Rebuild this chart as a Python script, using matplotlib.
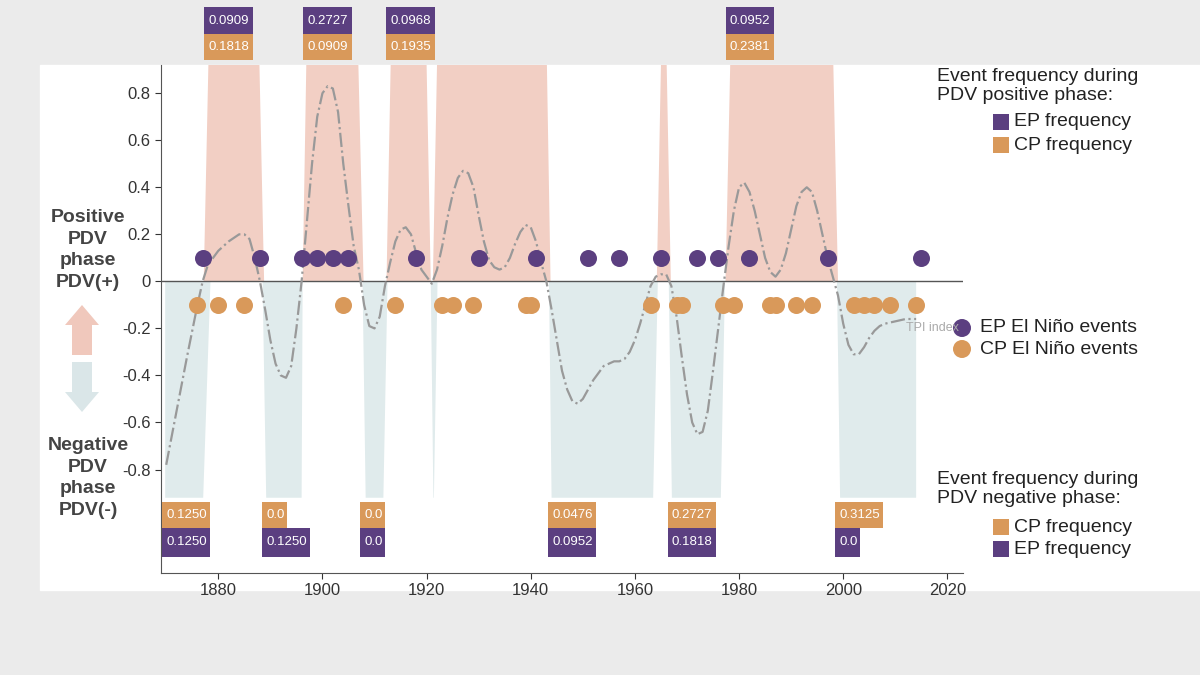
import matplotlib.pyplot as plt
from matplotlib.patches import Rectangle, FancyArrow, Ellipse
import numpy as np

plt.rcParams['font.family'] = ['Liberation Sans', 'DejaVu Sans']

# TPI index curve
tpi_year = [1870, 1872, 1874, 1876, 1877, 1878, 1880, 1882, 1884, 1885, 1886, 1887, 1888, 1889, 1890,
            1891, 1892, 1893, 1894, 1895, 1896, 1897, 1898, 1899, 1900, 1901, 1902, 1903, 1904, 1905,
            1906, 1907, 1908, 1909, 1910, 1911, 1912, 1913, 1914, 1915, 1916, 1917, 1918, 1919, 1920,
            1921, 1922, 1923, 1924, 1925, 1926, 1927, 1928, 1929, 1930, 1931, 1932, 1933, 1934, 1935,
            1936, 1937, 1938, 1939, 1940, 1941, 1942, 1943, 1944, 1945, 1946, 1947, 1948, 1949, 1950,
            1951, 1952, 1953, 1954, 1955, 1956, 1957, 1958, 1959, 1960, 1961, 1962, 1963, 1964, 1965,
            1966, 1967, 1968, 1969, 1970, 1971, 1972, 1973, 1974, 1975, 1976, 1977, 1978, 1979, 1980,
            1981, 1982, 1983, 1984, 1985, 1986, 1987, 1988, 1989, 1990, 1991, 1992, 1993, 1994, 1995,
            1996, 1997, 1998, 1999, 2000, 2001, 2002, 2003, 2004, 2005, 2006, 2007, 2008, 2010, 2012, 2014]
tpi_val = [-0.78, -0.55, -0.32, -0.1, 0.0, 0.07, 0.13, 0.17, 0.2, 0.2, 0.18, 0.1, 0.0, -0.12, -0.25,
           -0.35, -0.4, -0.41, -0.36, -0.2, 0.0, 0.25, 0.5, 0.7, 0.8, 0.83, 0.82, 0.72, 0.5, 0.32,
           0.15, 0.05, -0.1, -0.19, -0.2, -0.15, -0.02, 0.08, 0.17, 0.22, 0.23, 0.2, 0.12, 0.05, 0.02,
           -0.01, 0.05, 0.15, 0.27, 0.37, 0.44, 0.47, 0.46, 0.4, 0.28, 0.17, 0.09, 0.06, 0.05, 0.06,
           0.1, 0.16, 0.21, 0.24, 0.23, 0.17, 0.08, 0.0, -0.12, -0.25, -0.38, -0.46, -0.51, -0.52, -0.5,
           -0.46, -0.42, -0.39, -0.36, -0.35, -0.34, -0.34, -0.33, -0.3, -0.25, -0.18, -0.1, -0.02, 0.02, 0.03,
           0.03, -0.02, -0.15, -0.32, -0.48, -0.6, -0.65, -0.64, -0.55, -0.38, -0.2, -0.02, 0.15, 0.3, 0.4,
           0.42, 0.38, 0.3, 0.2, 0.1, 0.04, 0.02, 0.05, 0.12, 0.22, 0.32, 0.38, 0.4, 0.38, 0.3,
           0.2, 0.1, 0.02, -0.06, -0.18, -0.27, -0.31, -0.31, -0.28, -0.24, -0.21, -0.19, -0.18, -0.17, -0.16, -0.16]

ep_years = [1877, 1888, 1896, 1899, 1902, 1905, 1918, 1930, 1941, 1951, 1957, 1965, 1972, 1976, 1982, 1997, 2015]
cp_years = [1876, 1880, 1885, 1904, 1914, 1923, 1925, 1929, 1939, 1940, 1963, 1968, 1969, 1977, 1979,
            1986, 1987, 1991, 1994, 2002, 2004, 2006, 2009, 2014]

# positive phases: (bottom start, top start, top end, bottom end)
pos_phases = [(1877.2, 1878.1, 1887.9, 1888.8), (1896.2, 1896.9, 1906.9, 1907.9),
              (1912.3, 1913.1, 1920.0, 1920.8), (1921.2, 1922.0, 1943.1, 1943.8),
              (1964.2, 1965.0, 1966.1, 1966.9), (1977.4, 1978.3, 1998.1, 1999.0)]
# negative phases: (top start, bottom start, bottom end, top end)
neg_phases = [(1869.8, 1869.8, 1877.1, 1878.5), (1888.5, 1889.2, 1896.0, 1896.2),
              (1907.7, 1908.3, 1911.7, 1912.5), (1920.8, 1921.3, 1921.4, 1922.1),
              (1943.5, 1944.0, 1963.5, 1964.4), (1966.5, 1967.1, 1976.5, 1977.3),
              (1998.8, 1999.4, 2014.0, 2014.0)]

pos_start = [1877.3, 1896.3, 1912.3, 1977.4]
pos_ep = ["0.0909", "0.2727", "0.0968", "0.0952"]
pos_cp = ["0.1818", "0.0909", "0.1935", "0.2381"]
neg_start = [1869.2, 1888.4, 1907.3, 1943.3, 1966.3, 1998.4]
neg_cp = ["0.1250", "0.0", "0.0", "0.0476", "0.2727", "0.3125"]
neg_ep = ["0.1250", "0.1250", "0.0", "0.0952", "0.1818", "0.0"]

PINK = '#f2cfc4'
BLUE = '#e0ebec'
PURPLE = '#5b3f80'
ORANGE = '#d9995a'

fig = plt.figure(figsize=(12, 6.75), dpi=100, facecolor='#ebebeb')
fig.patches.append(Rectangle((40 / 1200, 85 / 675), 1160 / 1200, 525 / 675,
                             transform=fig.transFigure, color='white', zorder=-5))
ax = fig.add_axes([161 / 1200, 102 / 675, 802 / 1200, 508 / 675])
ax.set_zorder(2)
ax.set_facecolor('none')
ax.set_xlim(1869, 2023)
ax.set_ylim(-1.24, 0.92)

for b0, t0, t1, b1 in pos_phases:
    ax.fill([b0, t0, t1, b1], [0, 0.92, 0.92, 0], color=PINK, lw=0, zorder=1)
for t0, b0, b1, t1 in neg_phases:
    ax.fill([t0, b0, b1, t1], [0, -0.92, -0.92, 0], color=BLUE, lw=0, zorder=1)

ax.axhline(0, color='#555555', lw=1, zorder=2)
ax.plot(tpi_year, tpi_val, color='#999999', lw=1.6, ls='-.', zorder=3)
ax.scatter(ep_years, [0.1] * len(ep_years), s=150, color=PURPLE, zorder=4, lw=0)
ax.scatter(cp_years, [-0.1] * len(cp_years), s=150, color=ORANGE, zorder=4, lw=0)
ax.text(2012, -0.2, "TPI index", color='#aaaaaa', fontsize=9, va='center')


def box(x, y0, y1, label, color):
    w = 4.8 if len(label) < 4 else 9.3
    ax.add_patch(Rectangle((x, y0), w, y1 - y0, color=color, clip_on=False, zorder=5, lw=0))
    ax.text(x + 0.8, (y0 + y1) / 2, label, color='white', fontsize=9.5, va='center',
            ha='left', clip_on=False, zorder=6)


for x, e, c in zip(pos_start, pos_ep, pos_cp):
    box(x, 1.05, 1.165, e, PURPLE)
    box(x, 0.94, 1.05, c, ORANGE)
for x, c, e in zip(neg_start, neg_cp, neg_ep):
    box(x, -1.05, -0.94, c, ORANGE)
    box(x, -1.17, -1.05, e, PURPLE)

ax.set_yticks(np.round(np.arange(-0.8, 0.81, 0.2), 1))
ax.set_yticklabels(['-0.8', '-0.6', '-0.4', '-0.2', '0', '0.2', '0.4', '0.6', '0.8'])
ax.set_xticks([1880, 1900, 1920, 1940, 1960, 1980, 2000, 2020])
ax.tick_params(labelsize=12, colors='#333333', length=4)
for s in ['top', 'right']:
    ax.spines[s].set_visible(False)
for s in ['left', 'bottom']:
    ax.spines[s].set_color('#555555')

# left annotations
fig.text(88 / 1200, 1 - 250 / 675, "Positive\nPDV\nphase\nPDV(+)", ha='center', va='center',
         fontsize=14, fontweight='bold', color='#444444', linespacing=1.35)
fig.text(88 / 1200, 1 - 478 / 675, "Negative\nPDV\nphase\nPDV(-)", ha='center', va='center',
         fontsize=14, fontweight='bold', color='#444444', linespacing=1.35)
fig.patches.append(FancyArrow(82 / 1200, 1 - 355 / 675, 0, 30 / 675, width=20 / 1200,
                              head_width=34 / 1200, head_length=20 / 675,
                              transform=fig.transFigure, color='#f0c8bc', lw=0))
fig.patches.append(FancyArrow(82 / 1200, 1 - 362 / 675, 0, -30 / 675, width=20 / 1200,
                              head_width=34 / 1200, head_length=20 / 675,
                              transform=fig.transFigure, color='#dae6e8', lw=0))

# right legends
def sq(y, color, label):
    fig.patches.append(Rectangle((993 / 1200, 1 - (y + 8) / 675), 16 / 1200, 16 / 675,
                                 transform=fig.transFigure, color=color, lw=0))
    fig.text(1014 / 1200, 1 - y / 675, label, fontsize=14, va='center', color='#222222')


def dot(y, color, label):
    fig.patches.append(Ellipse((962 / 1200, 1 - y / 675), 18 / 1200, 18 / 675,
                               transform=fig.transFigure, color=color, lw=0))
    fig.text(980 / 1200, 1 - y / 675, label, fontsize=14, va='center', color='#222222')


fig.text(937 / 1200, 1 - 86 / 675, "Event frequency during\nPDV positive phase:",
         fontsize=14, va='center', color='#222222')
sq(122, PURPLE, "EP frequency")
sq(145, ORANGE, "CP frequency")
dot(328, PURPLE, "EP El Niño events")
dot(349, ORANGE, "CP El Niño events")
fig.text(937 / 1200, 1 - 489 / 675, "Event frequency during\nPDV negative phase:",
         fontsize=14, va='center', color='#222222')
sq(527, ORANGE, "CP frequency")
sq(549, PURPLE, "EP frequency")

fig.savefig("out.png", dpi=100, facecolor=fig.get_facecolor())
